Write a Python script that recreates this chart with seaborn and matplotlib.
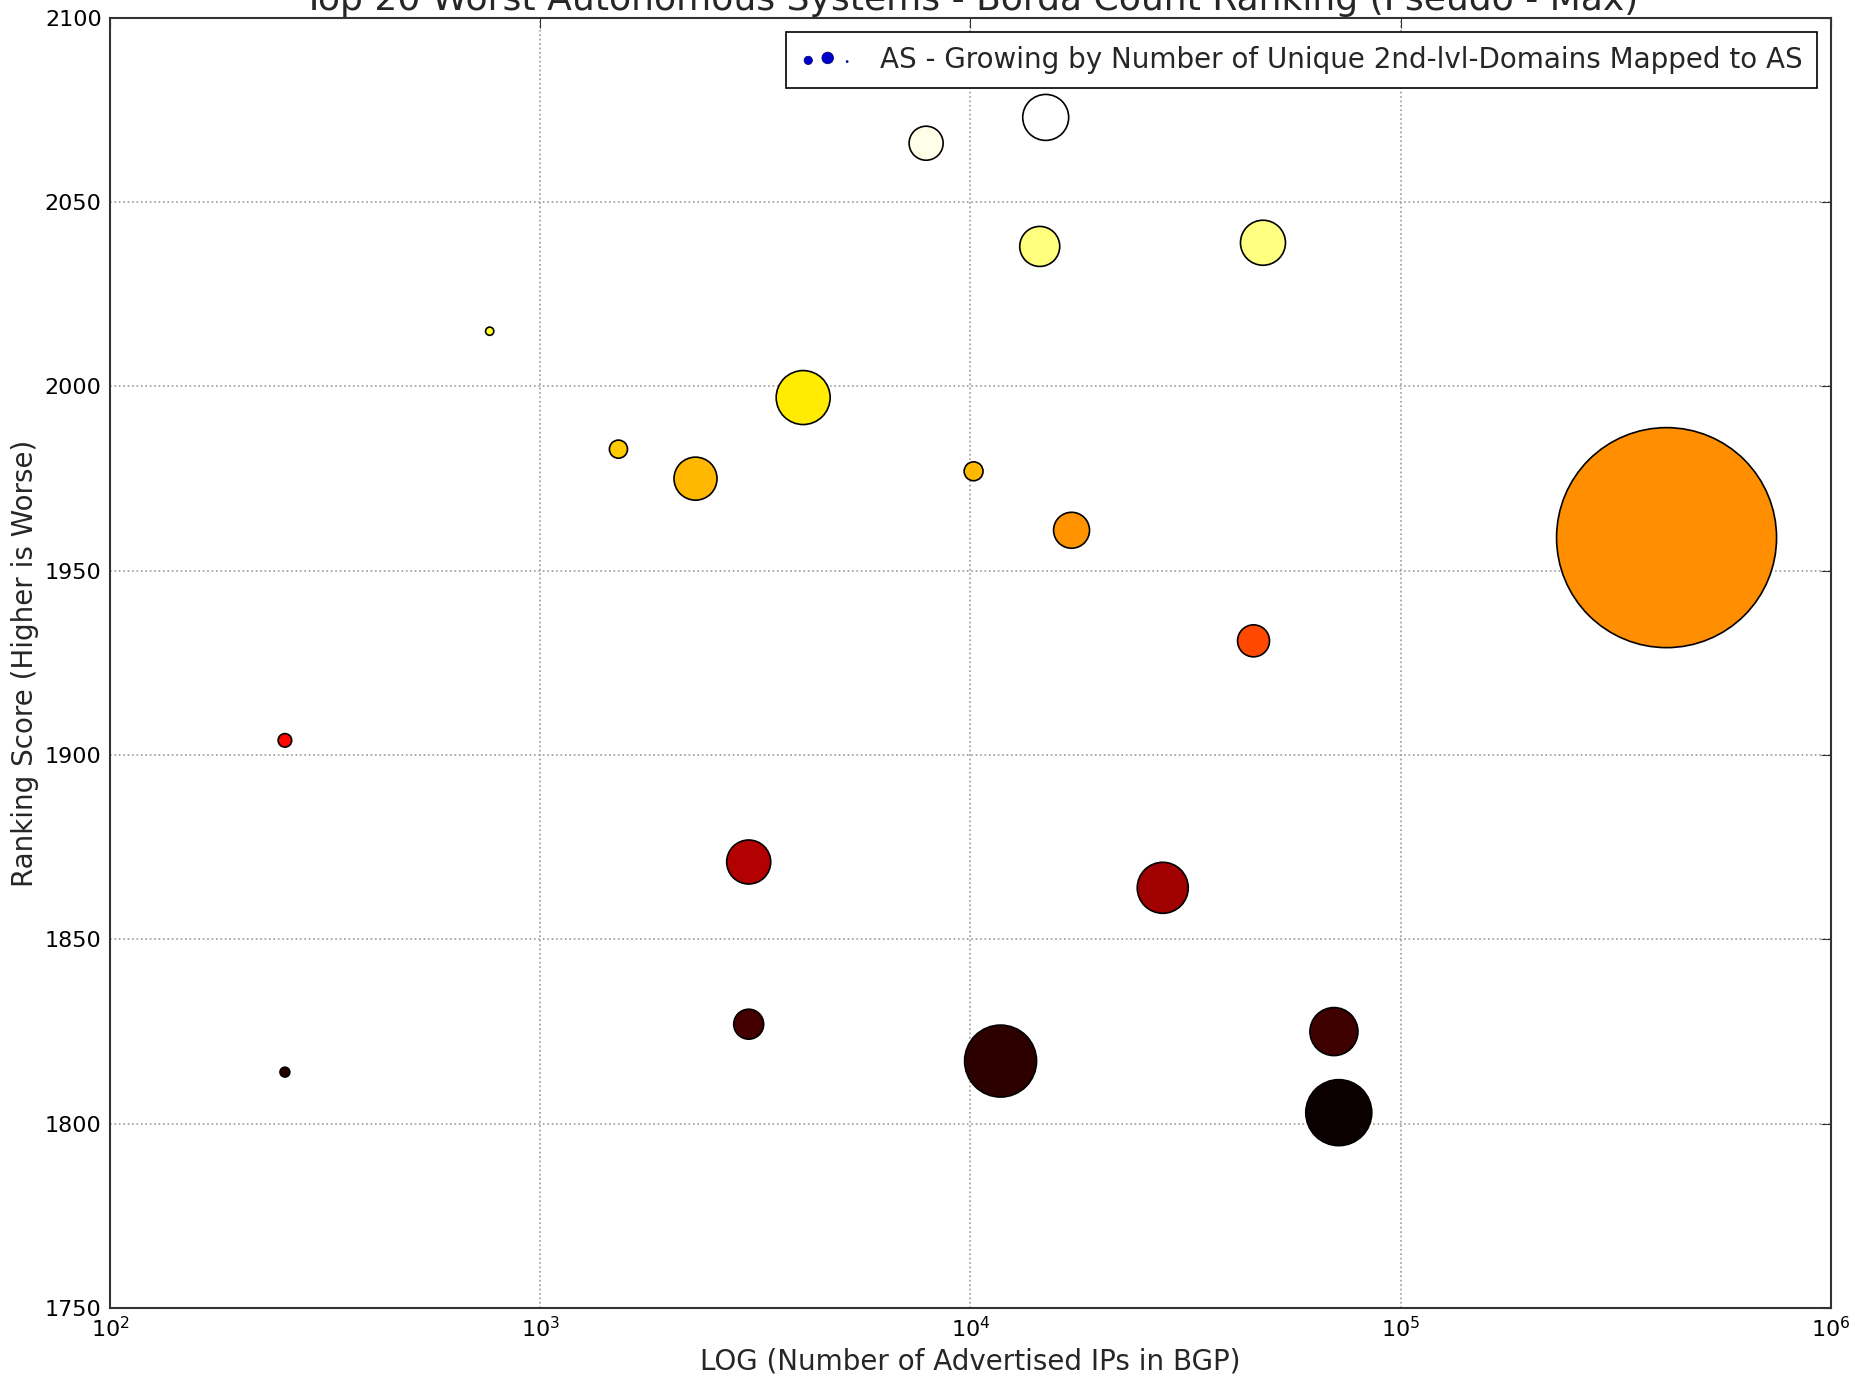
import numpy as np
import pandas as pd
import seaborn as sns
import matplotlib.pyplot as plt

# Top 20 worst AS: advertised IPs in BGP, Borda score, unique 2nd-level domains
advertised_ips = [255, 255, 763, 1520, 2296, 3052, 3052, 4085, 7888, 10170,
                  11750, 14490, 14960, 17180, 27990, 45500, 47860, 69970, 71800, 415000]
ranking_score = [1904, 1814, 2015, 1983, 1975, 1871, 1827, 1997, 2066, 1977,
                 1817, 2038, 2073, 1961, 1864, 1931, 2039, 1825, 1803, 1959]
unique_domains = [19, 10, 7, 34, 192, 201, 93, 302, 120, 37,
                  537, 166, 219, 134, 270, 106, 210, 239, 452, 5018]

title = 'Top 20 Worst Autonomous Systems - Borda Count Ranking (Pseudo - Max)'
legend_label = 'AS - Growing by Number of Unique 2nd-lvl-Domains Mapped to AS'

AREA_PER_DOMAIN = 5  # marker area (pt^2) per domain

df = pd.DataFrame({'ips': advertised_ips,
                   'score': ranking_score,
                   'domains': unique_domains})

sns.set_style('white')
plt.rcParams['font.family'] = ['DejaVu Sans']
plt.rcParams.update({
    'xtick.direction': 'in', 'ytick.direction': 'in',
    'xtick.top': True, 'ytick.right': True,
    'xtick.major.size': 7, 'ytick.major.size': 7,
    'xtick.color': '#333333', 'ytick.color': '#333333',
    'xtick.labelcolor': 'black', 'ytick.labelcolor': 'black',
})

fig, ax = plt.subplots(figsize=(18.55, 13.76), dpi=100)
fig.subplots_adjust(left=0.0593, right=0.987, bottom=0.0494, top=0.987)

dmin, dmax = min(unique_domains), max(unique_domains)
sns.scatterplot(data=df, x='ips', y='score',
                hue='score', palette='hot',
                hue_norm=(min(ranking_score), max(ranking_score)),
                size='domains',
                sizes=(dmin * AREA_PER_DOMAIN, dmax * AREA_PER_DOMAIN),
                size_norm=(dmin, dmax),
                edgecolor='black', linewidth=1.2, legend=False, ax=ax, zorder=3)

# legend proxy (blue dots of growing size)
ax.scatter([np.nan, np.nan], [np.nan, np.nan], s=[2, 70], c='#0000cc',
           edgecolors='#000066', linewidths=0.5, label=legend_label)

ax.set_xscale('log')
ax.set_xlim(1e2, 1e6)
ax.set_ylim(1750, 2100)
ax.set_yticks(np.arange(1750, 2101, 50))
ax.minorticks_off()

ax.grid(True, linestyle=':', color='#999999', linewidth=1.2, zorder=0)
ax.set_axisbelow(True)
for sp in ax.spines.values():
    sp.set_linewidth(1.5)
    sp.set_color('#333333')

ax.tick_params(labelsize=16, pad=6)
ax.set_xlabel('LOG (Number of Advertised IPs in BGP)', fontsize=20, labelpad=4)
ax.set_ylabel('Ranking Score (Higher is Worse)', fontsize=20, labelpad=4)
ax.set_title(title, fontsize=26, pad=6)

leg = ax.legend(loc='upper right', scatterpoints=3, fontsize=20,
                frameon=True, fancybox=False, framealpha=1,
                edgecolor='black', borderaxespad=0.5, borderpad=0.5,
                handletextpad=0.9)
leg.get_frame().set_linewidth(1.2)

plt.savefig('out.png', dpi=100)
